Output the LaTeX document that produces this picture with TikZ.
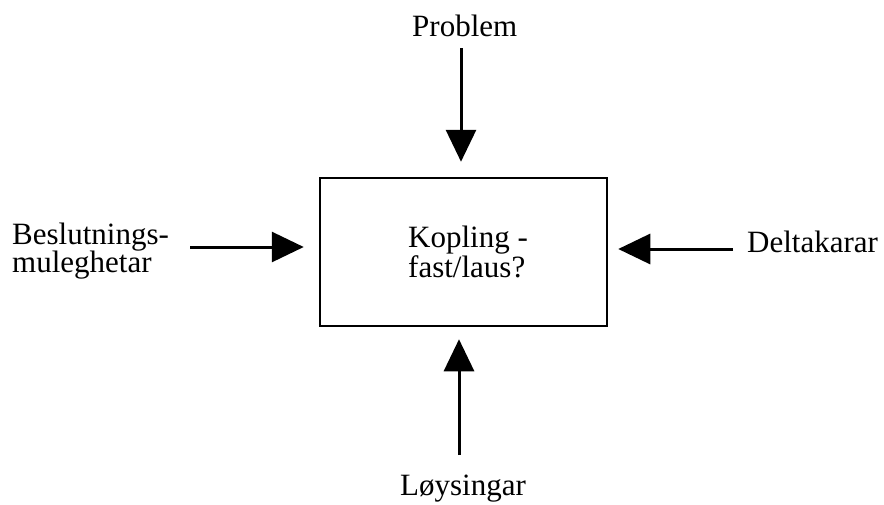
\documentclass[tikz,border=0pt]{standalone}
\usepackage{fontspec}
\setmainfont{Liberation Serif}
\usetikzlibrary{arrows.meta}
\begin{document}
\begin{tikzpicture}[x=1pt,y=-1pt,
  lbl/.style={font=\fontsize{31}{28}\selectfont, inner sep=0pt, anchor=base west},
  arr/.style={line width=3pt, -{Triangle[length=32pt,width=30pt]}}]
\useasboundingbox (0,0) rectangle (884,504);
\node[draw, line width=2.5pt, minimum width=287pt, minimum height=148pt, inner sep=0pt] (box) at (463.5,252) {};
\node[lbl] (kop1) at (408,247) {Kopling -};
\node[lbl] (kop2) at (408,277) {fast/laus?};
\node[lbl] (prob) at (412,36) {Problem};
\node[lbl] (loys) at (400,495) {Løysingar};
\node[lbl] (bes1) at (12,244) {Beslutnings-};
\node[lbl] (bes2) at (12,272) {muleghetar};
\node[lbl] (delt) at (747,252) {Deltakarar};
\coordinate (ts) at (461,48);
\coordinate (bs) at (459,455);
\coordinate (ls) at (190,247);
\coordinate (rs) at (733,249);
\draw[arr, shorten >=15pt] (ts) -- (ts |- box.north);
\draw[arr, shorten >=12pt] (bs) -- (bs |- box.south);
\draw[arr, shorten >=15pt] (ls) -- (ls -| box.west);
\draw[arr, shorten >=10pt] (rs) -- (rs -| box.east);
\end{tikzpicture}
\end{document}
